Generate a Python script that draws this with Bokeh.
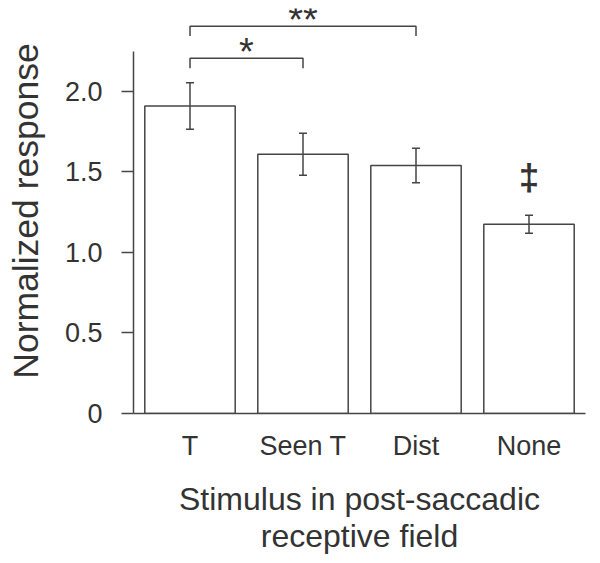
from bokeh.plotting import figure
from bokeh.models import FactorRange, Range1d, Whisker, TeeHead, ColumnDataSource, FixedTicker
from bokeh.core.properties import value
from bokeh.embed import file_html
from bokeh.resources import INLINE

# ---- data ----
categories = ["T", "Seen T", "Dist", "None"]
means = [1.91, 1.61, 1.54, 1.175]
sems = [0.145, 0.13, 0.107, 0.056]
y_ticks = [0, 0.5, 1.0, 1.5, 2.0]
y_tick_labels = ["0", "0.5", "1.0", "1.5", "2.0"]
sig_pairs = [("T", "Seen T"), ("T", "Dist")]
sig_marks = ["*", "**"]
dagger_category = "None"
dagger_mark = "\u2021"
y_title = "Normalized response"
x_title = "Stimulus in post-saccadic\nreceptive field"

# ---- style ----
FONT = "Liberation Sans"
TXT = "#333333"
LINE = "#454545"
Y_MAX = 2.5155
AXIS_TOP = 2.25
BRACKET_BASE = 2.207
BRACKET_STEP = 0.199
BRACKET_DROP = 0.062

src = ColumnDataSource(dict(
    cat=categories,
    mean=means,
    upper=[m + s for m, s in zip(means, sems)],
    lower=[m - s for m, s in zip(means, sems)],
))

p = figure(x_range=FactorRange(*categories, factor_padding=0, range_padding=0),
           y_range=Range1d(0, Y_MAX),
           frame_width=452, frame_height=405,
           output_backend="svg", toolbar_location=None,
           min_border_left=133, min_border_right=7, min_border_top=8,
           min_border_bottom=0)
p.outline_line_color = None
p.grid.visible = False
p.background_fill_color = "white"

p.vbar(x="cat", top="mean", width=0.8, source=src, fill_color="white",
       line_color=LINE, line_width=1.5)

w = Whisker(base="cat", upper="upper", lower="lower", source=src,
            line_color=LINE, line_width=1.5, level="overlay",
            upper_head=TeeHead(size=8, line_color=LINE, line_width=1.5),
            lower_head=TeeHead(size=8, line_color=LINE, line_width=1.5))
p.add_layout(w)

# significance brackets
xs, ys, tx, ty = [], [], [], []
for i, (a, b) in enumerate(sig_pairs):
    xa = categories.index(a) + 0.5
    xb = categories.index(b) + 0.5
    yt = BRACKET_BASE + i * BRACKET_STEP
    xs.append([xa, xa, xb, xb])
    ys.append([yt - BRACKET_DROP, yt, yt, yt - BRACKET_DROP])
    tx.append((xa + xb) / 2)
    ty.append(yt)
p.multi_line(xs=xs, ys=ys, line_color=LINE, line_width=1.5)
p.text(x=tx, y=ty, text=sig_marks, text_align="center", text_baseline="alphabetic",
       y_offset=-6, text_font=value(FONT), text_font_size="38px", text_color=TXT)

di = categories.index(dagger_category)
p.text(x=[di + 0.5], y=[means[di] + sems[di]], text=[dagger_mark], text_align="center",
       text_baseline="middle", y_offset=-38, text_font=value(FONT),
       text_font_size="37px", text_font_style="bold", text_color=TXT)

# axes
ya = p.yaxis[0]
ya.bounds = (0, AXIS_TOP)
ya.ticker = FixedTicker(ticks=y_ticks)
ya.major_label_overrides = dict(zip(y_ticks, y_tick_labels))
ya.minor_tick_line_color = None
ya.major_tick_in = 0
ya.major_tick_out = 12
ya.major_label_standoff = 19
ya.axis_label = y_title
ya.axis_label_standoff = 16
ya.axis_label_text_font_size = "35.5px"
ya.axis_label_text_font_style = "normal"

xa_ = p.xaxis[0]
xa_.major_tick_line_color = None
xa_.minor_tick_line_color = None
xa_.major_tick_out = 0
xa_.major_tick_in = 0
xa_.major_label_standoff = 17
xa_.axis_label = x_title
xa_.axis_label_standoff = 17
xa_.axis_label_text_font_size = "32px"
xa_.axis_label_text_font_style = "normal"
xa_.axis_label_text_line_height = 1.05

for ax in (ya, xa_):
    ax.axis_line_color = LINE
    ax.axis_line_width = 1.5
    ax.major_tick_line_color = LINE if ax is ya else None
    ax.major_tick_line_width = 1.5
    ax.major_label_text_font = FONT
    ax.major_label_text_font_size = "27px"
    ax.major_label_text_color = TXT
    ax.axis_label_text_font = FONT
    ax.axis_label_text_color = TXT

open("out.html", "w").write(file_html(p, INLINE))
